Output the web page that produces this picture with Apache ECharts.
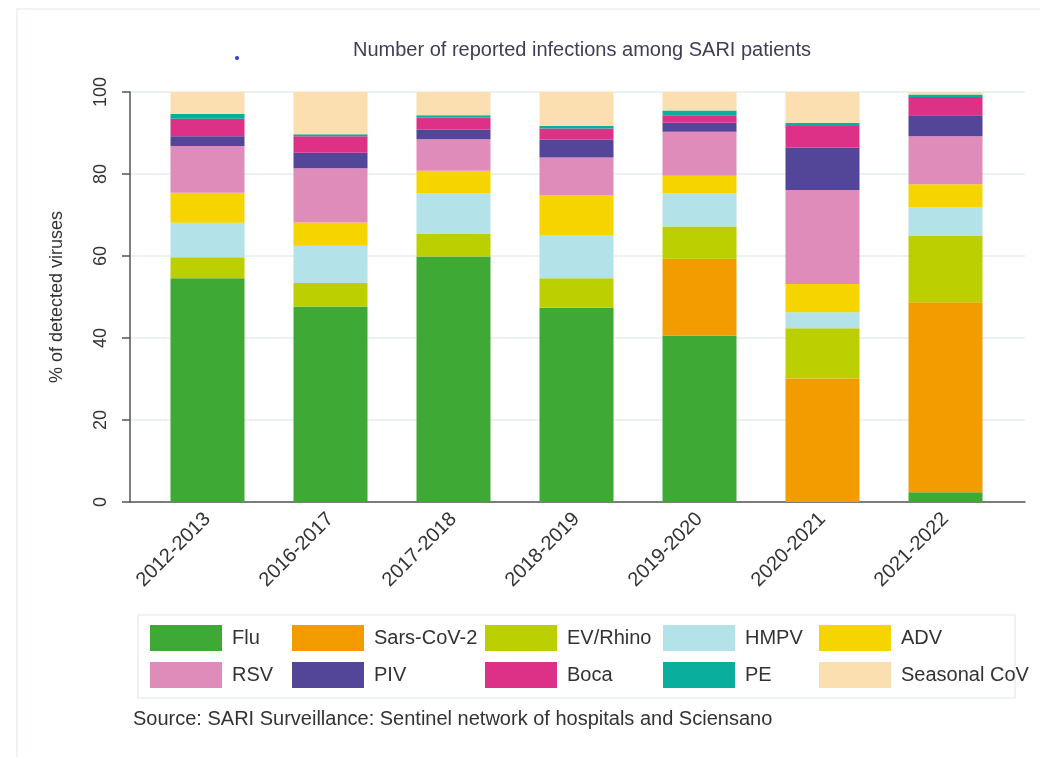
<!DOCTYPE html>
<html>
<head>
<meta charset="utf-8">
<script src="https://cdn.jsdelivr.net/npm/echarts@6/dist/echarts.min.js"></script>
<style>
  html, body { margin: 0; padding: 0; background: #fff; }
  #chart { width: 1040px; height: 757px; }
</style>
</head>
<body>
<div id="chart"></div>
<script>
// seasons
var categories = ['2012-2013', '2016-2017', '2017-2018', '2018-2019', '2019-2020', '2020-2021', '2021-2022'];

// % of detected viruses, per season
var flu      = [54.6, 47.7, 59.9, 47.4, 40.6, 0,    2.4];
var sarsCov2 = [0,    0,    0,    0,    18.7, 30.1, 46.3];
var evRhino  = [5.1,  5.7,  5.6,  7.2,  7.9,  12.3, 16.3];
var hmpv     = [8.4,  9.1,  9.8,  10.5, 8.1,  3.9,  6.8];
var adv      = [7.3,  5.7,  5.5,  9.8,  4.3,  6.9,  5.7];
var rsv      = [11.4, 13.2, 7.7,  9.1,  10.7, 22.9, 11.7];
var piv      = [2.4,  3.8,  2.3,  4.4,  2.2,  10.3, 5.1];
var boca     = [4.3,  4.0,  3.0,  2.7,  1.8,  5.3,  4.5];
var pe       = [1.2,  0.5,  0.5,  0.6,  1.2,  0.8,  0.6];
var seasCov  = [5.3,  10.3, 5.7,  8.3,  4.5,  7.5,  0.6];

var yTicks = [0, 20, 40, 60, 80, 100];

var names  = ['Flu', 'Sars-CoV-2', 'EV/Rhino', 'HMPV', 'ADV', 'RSV', 'PIV', 'Boca', 'PE', 'Seasonal CoV'];
var values = [flu, sarsCov2, evRhino, hmpv, adv, rsv, piv, boca, pe, seasCov];
var colors = ['#3ea935', '#f39c00', '#bccf00', '#b3e2e8', '#f5d400',
              '#df8cba', '#534597', '#dc3187', '#0aae9c', '#fbdfb0'];

var FONT = "'Liberation Sans', Arial, sans-serif";
var chart = echarts.init(document.getElementById('chart'));

var series = names.map(function (n, i) {
  return {
    name: n,
    type: 'bar',
    stack: 'total',
    xAxisIndex: 0,
    yAxisIndex: 0,
    barWidth: 74,
    itemStyle: { color: colors[i] },
    data: values[i]
  };
});

// legend: 5 columns of 2 rows, like the stata legend
var colLeft = [150, 292, 485, 663, 819];
var legends = [];
for (var c = 0; c < 5; c++) {
  legends.push({
    orient: 'vertical',
    left: colLeft[c],
    top: 625,
    padding: 0,
    itemWidth: 72,
    itemHeight: 26,
    itemGap: 11,
    icon: 'rect',
    selectedMode: false,
    data: [names[c], names[c + 5]],
    textStyle: { fontFamily: FONT, fontSize: 20, color: '#333', padding: [0, 0, 0, 5] }
  });
}

chart.setOption({
  animation: false,
  backgroundColor: '#fff',
  title: {
    text: 'Number of reported infections among SARI patients',
    left: 577,
    textAlign: 'center',
    top: 35,
    textStyle: { fontFamily: FONT, fontSize: 20, fontWeight: 'normal', color: '#3d3f55' }
  },
  legend: legends,
  grid: [
    { left: 146, right: 33, top: 92, bottom: 255 },   // bars
    { left: 130, right: 15, top: 92, bottom: 255 }    // frame, ticks, gridlines
  ],
  xAxis: [
    {
      type: 'category',
      gridIndex: 0,
      data: categories,
      axisLine: { show: false },
      axisTick: { show: false },
      axisLabel: { rotate: 45, margin: 14, fontFamily: FONT, fontSize: 20, color: '#333' }
    },
    {
      type: 'value',
      gridIndex: 1,
      min: 0,
      max: 1,
      axisLine: { show: true, lineStyle: { color: '#555', width: 1.5 } },
      axisTick: { show: false },
      axisLabel: { show: false },
      splitLine: { show: false }
    }
  ],
  yAxis: [
    {
      type: 'value',
      gridIndex: 0,
      min: 0,
      max: 100,
      show: false
    },
    {
      type: 'value',
      gridIndex: 1,
      min: yTicks[0],
      max: yTicks[yTicks.length - 1],
      interval: 20,
      name: '% of detected viruses',
      nameLocation: 'middle',
      nameGap: 64,
      nameTextStyle: { fontFamily: FONT, fontSize: 18, color: '#333' },
      axisLine: { show: true, lineStyle: { color: '#555', width: 1.5 } },
      axisTick: { show: true, length: 8, lineStyle: { color: '#555', width: 1.5 } },
      axisLabel: { rotate: 90, margin: 20, fontFamily: FONT, fontSize: 18, color: '#333' },
      splitLine: { show: true, lineStyle: { color: '#e6eeee', width: 1.5 } }
    }
  ],
  graphic: [
    {
      type: 'polyline',
      silent: true,
      shape: { points: [[17, 757], [17, 9], [1040, 9]] },
      style: { stroke: '#edf3f3', lineWidth: 2, fill: null }
    },
    {
      type: 'rect',
      silent: true,
      shape: { x: 138, y: 615, width: 877, height: 83 },
      style: { stroke: '#e8eeee', lineWidth: 1.5, fill: null }
    },
    {
      type: 'circle',
      silent: true,
      shape: { cx: 237, cy: 58, r: 2 },
      style: { fill: '#2a3bd8' }
    },
    {
      type: 'text',
      left: 133,
      top: 709,
      style: {
        text: 'Source: SARI Surveillance: Sentinel network of hospitals and Sciensano',
        font: '20px ' + FONT,
        fill: '#333'
      }
    }
  ],
  series: series
});
</script>
</body>
</html>
